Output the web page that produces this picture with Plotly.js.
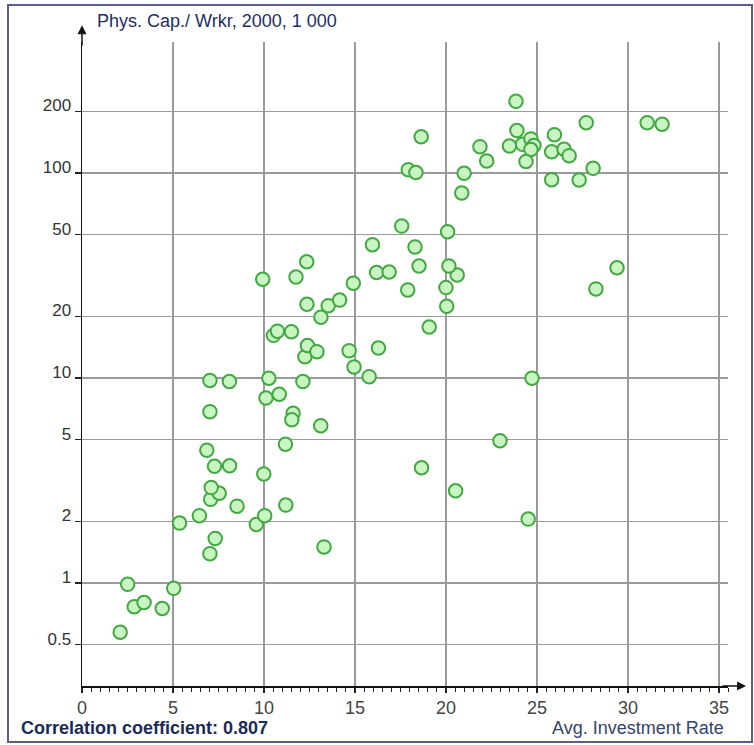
<!DOCTYPE html>
<html>
<head>
<meta charset="utf-8">
<script src="https://cdn.plot.ly/plotly-3.0.1.min.js"></script>
<style>
html,body{margin:0;padding:0;background:#fff;}
#chart{width:754px;height:745px;}
</style>
</head>
<body>
<div id="chart"></div>
<script>
// Average investment rate (x) and physical capital per worker, 2000, in thousands (y)
const investRate = [2.10,2.51,2.87,3.41,4.41,5.04,5.36,6.45,7.03,7.32,
  7.07,7.54,7.10,8.52,9.58,10.04,11.20,9.99,7.28,8.11,
  6.86,11.18,7.03,11.60,11.53,13.12,10.11,10.84,7.03,8.10,
  10.27,12.14,15.78,14.95,13.30,18.66,20.53,22.97,24.52,24.73,
  12.25,12.39,12.91,14.68,16.29,10.52,10.74,11.51,13.13,19.08,
  13.53,12.36,14.16,20.04,17.90,20.0,14.91,9.93,11.76,16.19,
  16.88,20.62,18.52,20.16,12.35,15.96,18.30,17.57,20.09,18.64,
  17.93,18.35,21.0,20.87,21.87,22.24,23.49,23.85,23.90,24.21,
  24.67,24.84,24.67,24.40,25.96,25.81,26.49,26.77,27.71,28.09,
  25.81,27.32,29.40,28.24,31.06,31.88];
const capPerWorker = [0.575,0.985,0.766,0.803,0.751,0.942,1.96,2.13,1.39,1.65,
  2.56,2.74,2.92,2.37,1.93,2.13,2.40,3.40,3.71,3.73,
  4.44,4.75,6.85,6.73,6.26,5.85,7.99,8.33,9.72,9.61,
  9.97,9.61,10.15,11.31,1.50,3.65,2.82,4.94,2.05,9.97,
  12.7,14.41,13.44,13.59,14.01,16.14,16.92,16.82,19.78,17.74,
  22.53,22.9,24.0,22.4,26.9,27.6,28.97,30.3,31.1,32.7,
  32.9,31.8,35.2,35.2,36.9,44.7,43.6,55.1,51.7,150.3,
  103.8,100.6,99.7,79.9,134.4,114.4,135.4,223.7,161.2,138,
  146.6,136.2,130.2,113.8,153.8,127,130.6,121.5,176,105.4,
  92.8,92.4,34.5,27.2,176,172.9];

const yTickVals = [0.5,1,2,5,10,20,50,100,200];
const yTickText = ['0.5','1','2','5','10','20','50','100','200'];
const xTickVals = [0,5,10,15,20,25,30,35];
const xTickText = ['0','5','10','15','20','25','30','35'];

const yTitle = 'Phys. Cap./ Wrkr, 2000, 1 000';
const xTitle = 'Avg. Investment Rate';
const corrText = 'Correlation coefficient: 0.807';

const FONT = '"Liberation Sans", Arial, sans-serif';
const NARROW = '"Liberation Sans Narrow", "Liberation Sans", Arial, sans-serif';

const trace = {
  type: 'scatter',
  mode: 'markers',
  x: investRate,
  y: capPerWorker,
  marker: {
    size: 13.5,
    color: '#c8f5c2',
    line: {color: '#43a843', width: 2}
  },
  hoverinfo: 'x+y'
};

const layout = {
  width: 754,
  height: 745,
  margin: {l: 82, r: 26, t: 42, b: 59},
  paper_bgcolor: '#ffffff',
  plot_bgcolor: '#ffffff',
  showlegend: false,
  font: {family: FONT, color: '#333'},
  xaxis: {
    range: [0, 35.5],
    tickvals: xTickVals,
    ticktext: xTickText,
    ticks: 'outside',
    ticklen: 5,
    tickwidth: 1.2,
    tickcolor: '#222',
    minor: {dtick: 0.5, tick0: 0, ticks: 'outside', ticklen: 4, tickwidth: 1, tickcolor: '#222', showgrid: false},
    showgrid: true,
    gridcolor: '#9a9a9a',
    gridwidth: 1.5,
    showline: true,
    linecolor: '#111',
    linewidth: 1.5,
    zeroline: false,
    tickfont: {family: NARROW, size: 18, color: '#444'},
    fixedrange: true
  },
  yaxis: {
    type: 'log',
    range: [-0.5024, 2.639],
    tickvals: yTickVals,
    ticktext: yTickText,
    ticks: 'outside',
    ticklen: 6,
    tickwidth: 1.2,
    tickcolor: '#222',
    ticklabelshift: -6,
    showgrid: true,
    gridcolor: '#9a9a9a',
    gridwidth: 1.5,
    showline: true,
    linecolor: '#111',
    linewidth: 1.5,
    zeroline: false,
    tickfont: {family: FONT, size: 17, color: '#333'},
    fixedrange: true
  },
  annotations: [
    {xref: 'paper', yref: 'paper', x: 0, y: 1.026, ax: 0, ay: 22,
     showarrow: true, arrowhead: 2, arrowsize: 1.2, arrowwidth: 1.5, arrowcolor: '#111', text: ''},
    {xref: 'paper', yref: 'paper', x: 1.028, y: 0, ax: -25, ay: 0,
     showarrow: true, arrowhead: 2, arrowsize: 1.2, arrowwidth: 1.5, arrowcolor: '#111', text: ''},
    {xref: 'paper', yref: 'paper', x: 13/646, y: 1.032, xanchor: 'left', yanchor: 'middle',
     showarrow: false, text: yTitle, font: {family: FONT, size: 18, color: '#1e2f63'}},
    {xref: 'paper', yref: 'paper', x: 644/646, y: -42/644, xanchor: 'right', yanchor: 'middle',
     showarrow: false, text: xTitle, font: {family: FONT, size: 18, color: '#34436b'}},
    {xref: 'paper', yref: 'paper', x: -63/646, y: -42/644, xanchor: 'left', yanchor: 'middle',
     showarrow: false, text: '<b>' + corrText + '</b>', font: {family: FONT, size: 18, color: '#1b2b58'}}
  ],
  shapes: [
    {type: 'rect', xref: 'paper', yref: 'paper',
     x0: -74/646, x1: 670/646, y0: -56/644, y1: 681/644,
     line: {color: '#5a5e8c', width: 2}, fillcolor: 'rgba(0,0,0,0)', layer: 'below'}
  ]
};

Plotly.newPlot('chart', [trace], layout, {displayModeBar: false, staticPlot: true});
</script>
</body>
</html>
